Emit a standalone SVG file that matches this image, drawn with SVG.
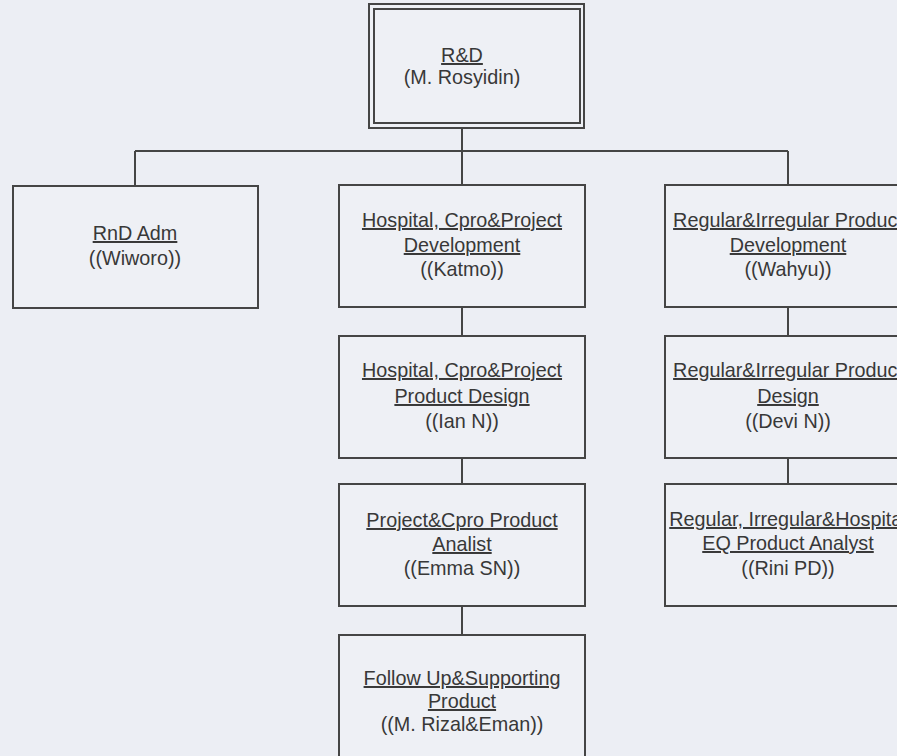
<svg xmlns="http://www.w3.org/2000/svg" width="897" height="756" viewBox="0 0 897 756">
<style>
.bg{fill:#eceef4}
.box{fill:#eef0f5;stroke:#454545;stroke-width:2}
.dbl{fill:none;stroke:#454545;stroke-width:2}
.ln{fill:none;stroke:#454545;stroke-width:2}
text{font-family:"Liberation Sans",Arial,sans-serif;font-size:19.8px;fill:#383838;text-anchor:middle}
.u{text-decoration:underline}
</style>
<rect class="bg" x="0" y="0" width="897" height="756"/>
<g id="connectors">
<path class="ln" d="M462 128V151M135 151H788M135 151V186M462 151V185M788 151V185"/>
<path class="ln" d="M462 307V336M462 458V484M462 606V635"/>
<path class="ln" d="M788 307V336M788 458V484"/>
</g>
<g id="rd">
<rect class="box" x="369" y="4" width="215" height="124"/>
<rect class="dbl" x="374" y="9" width="206" height="114"/>
<text x="462" y="62" class="u">R&amp;D</text>
<text x="462" y="84">(M. Rosyidin)</text>
</g>
<g id="rnd-adm">
<rect class="box" x="13" y="186" width="245" height="122"/>
<text x="135" y="240" class="u">RnD Adm</text>
<text x="135" y="265">((Wiworo))</text>
</g>
<g id="hosp-dev">
<rect class="box" x="339" y="185" width="246" height="122"/>
<text x="462" y="227" class="u">Hospital, Cpro&amp;Project</text>
<text x="462" y="252" class="u">Development</text>
<text x="462" y="276">((Katmo))</text>
</g>
<g id="reg-dev">
<rect class="box" x="665" y="185" width="246" height="122"/>
<text x="788" y="227" class="u">Regular&amp;Irregular Product</text>
<text x="788" y="252" class="u">Development</text>
<text x="788" y="276">((Wahyu))</text>
</g>
<g id="hosp-design">
<rect class="box" x="339" y="336" width="246" height="122"/>
<text x="462" y="377" class="u">Hospital, Cpro&amp;Project</text>
<text x="462" y="403" class="u">Product Design</text>
<text x="462" y="428">((Ian N))</text>
</g>
<g id="reg-design">
<rect class="box" x="665" y="336" width="246" height="122"/>
<text x="788" y="377" class="u">Regular&amp;Irregular Product</text>
<text x="788" y="403" class="u">Design</text>
<text x="788" y="428">((Devi N))</text>
</g>
<g id="proj-analist">
<rect class="box" x="339" y="484" width="246" height="122"/>
<text x="462" y="527" class="u">Project&amp;Cpro Product</text>
<text x="462" y="551" class="u">Analist</text>
<text x="462" y="575">((Emma SN))</text>
</g>
<g id="eq-analyst">
<rect class="box" x="665" y="484" width="246" height="122"/>
<text x="788" y="526" class="u">Regular, Irregular&amp;Hospital</text>
<text x="788" y="550" class="u">EQ Product Analyst</text>
<text x="788" y="575">((Rini PD))</text>
</g>
<g id="follow-up">
<rect class="box" x="339" y="635" width="246" height="122"/>
<text x="462" y="685" class="u">Follow Up&amp;Supporting</text>
<text x="462" y="708" class="u">Product</text>
<text x="462" y="731">((M. Rizal&amp;Eman))</text>
</g>
</svg>
